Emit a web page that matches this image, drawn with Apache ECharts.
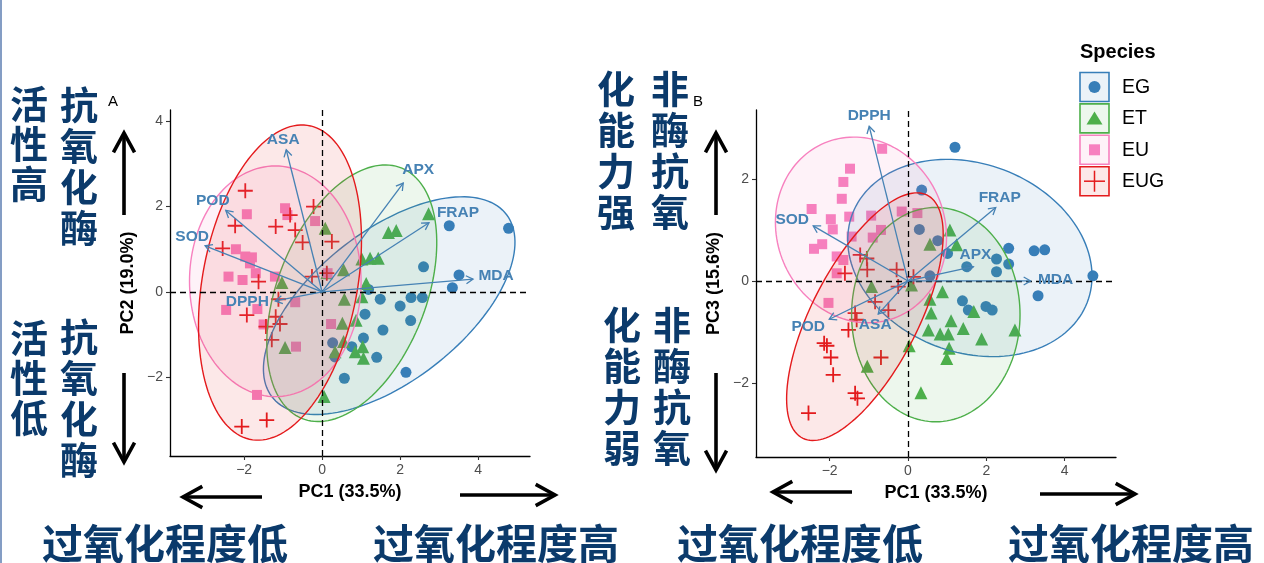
<!DOCTYPE html>
<html><head><meta charset="utf-8">
<script src="https://cdn.jsdelivr.net/npm/echarts@6/dist/echarts.min.js"></script>
<style>html,body{margin:0;padding:0;background:#fff}#c{width:1264px;height:563px}</style>
</head><body><div id="c"></div>
<script>
const speciesNames = ['EG', 'ET', 'EU', 'EUG'];
const speciesColors = ['#377EB8', '#4DAF4A', '#F781BF', '#E41A1C'];

// ---- Panel A : PC1 vs PC2 scores ----
const pcaA_EG = [[3.26,1.55],[4.78,1.49],[2.60,0.59],[3.51,0.40],[3.34,0.10],[1.49,-0.17],[2.0,-0.33],[2.28,-0.13],[2.57,-0.13],[1.10,-0.52],[2.27,-0.67],[1.56,-0.89],[1.06,-1.08],[0.27,-1.19],[0.76,-1.28],[1.40,-1.53],[2.15,-1.88],[0.57,-2.02],[0.33,-1.52],[1.19,0.06]];
const pcaA_ET = [[0.08,1.49],[2.73,1.83],[1.70,1.39],[1.90,1.44],[1.02,0.77],[1.23,0.79],[1.44,0.79],[0.55,0.52],[0.12,0.45],[-1.03,0.22],[1.13,0.20],[0.57,-0.17],[1.02,-0.11],[0.52,-0.73],[0.87,-0.66],[0.55,-1.16],[0.33,-1.40],[0.85,-1.40],[1.04,-1.28],[1.06,-1.55],[-0.95,-1.30],[0.05,-2.45]];
const pcaA_EU = [[-1.93,1.82],[-0.95,1.96],[-0.89,1.80],[-0.18,1.66],[-2.21,1.0],[-1.97,0.83],[-1.80,0.81],[-1.85,0.67],[-1.70,0.44],[-2.40,0.36],[-2.04,0.28],[-1.21,0.36],[-2.46,-0.42],[-1.66,-0.40],[-0.69,-0.24],[-1.50,-0.76],[0.23,-0.75],[-0.67,-1.28],[-1.67,-2.41],[0.14,0.44]];
const pcaA_EUG = [[-1.97,2.37],[-2.23,1.55],[-1.19,1.53],[-0.82,1.80],[-0.22,2.0],[-0.69,1.45],[-0.50,1.16],[0.25,1.18],[-2.55,1.02],[-1.63,0.24],[-0.26,0.36],[0.12,0.44],[-1.12,-0.17],[-1.93,-0.54],[-1.19,-0.58],[-1.08,-0.75],[-1.44,-0.81],[-1.29,-1.12],[-1.42,-3.0],[-2.06,-3.15]];

// ---- Panel B : PC1 vs PC3 scores ----
const pcaB_EG = [[1.20,2.62],[0.35,1.78],[0.29,1.01],[0.76,0.79],[1.01,0.54],[0.56,0.10],[1.50,0.28],[2.57,0.64],[2.26,0.43],[2.57,0.33],[2.26,0.18],[3.22,0.59],[3.49,0.61],[3.32,-0.29],[1.39,-0.39],[1.54,-0.57],[1.99,-0.50],[2.15,-0.57],[4.72,0.10]];
const pcaB_ET = [[0.56,0.72],[1.07,1.0],[1.24,0.71],[0.09,-0.08],[-0.93,-0.11],[0.88,-0.21],[0.56,-0.36],[0.59,-0.63],[1.68,-0.60],[1.10,-0.78],[1.41,-0.93],[0.52,-0.96],[0.82,-1.04],[1.03,-1.04],[1.88,-1.14],[2.73,-0.96],[1.05,-1.32],[0.99,-1.52],[0.03,-1.27],[-1.04,-1.67],[0.33,-2.19]];
const pcaB_EU = [[-0.66,2.59],[-1.48,2.20],[-1.65,1.94],[-1.69,1.61],[-2.46,1.41],[-1.97,1.21],[-1.92,1.01],[-1.50,1.26],[-0.94,1.28],[-0.16,1.36],[0.24,1.33],[-0.69,1.0],[-0.90,0.85],[-2.19,0.72],[-2.40,0.63],[-1.44,0.87],[-1.82,0.48],[-1.65,0.41],[-1.82,0.15],[-2.03,-0.43]];
const pcaB_EUG = [[-1.22,0.51],[-1.05,0.44],[-1.04,0.22],[-1.61,0.15],[-0.29,0.22],[-0.25,-0.11],[0.14,0.08],[-0.84,-0.41],[-0.50,-0.57],[-1.35,-0.63],[-1.31,-0.76],[-1.52,-0.96],[-2.14,-1.22],[-2.07,-1.27],[-1.97,-1.50],[-0.69,-1.50],[-1.91,-1.84],[-1.35,-2.20],[-1.29,-2.30],[-2.54,-2.59]];

// ---- variable loadings (arrow tips) ----
const loadingNames = ['ASA', 'POD', 'SOD', 'DPPH', 'APX', 'FRAP', 'MDA'];
const loadingsA = [[-0.92,3.33],[-2.47,1.91],[-3.0,1.08],[-1.20,-0.21],[2.08,2.55],[2.74,1.62],[3.87,0.30]];
const loadingsB = [[-0.76,-0.65],[-2.01,-0.75],[-2.42,1.08],[-0.99,3.03],[1.67,0.28],[2.24,1.44],[3.13,0.0]];

// ---- concentration ellipses: [centreX, centreY, semiAxis1, semiAxis2, angleDeg] ----
const ellipseA_EG = [1.72, -0.32, 3.69, 1.81, 33.9];
const ellipseA_ET = [0.76, -0.03, 3.2, 1.88, 64.8];
const ellipseA_EU = [-1.2, 0.25, 2.7, 2.2, 90];
const ellipseA_EUG = [-1.08, 0.22, 3.75, 1.98, 77.9];
const ellipseB_EG = [1.58, 0.45, 3.15, 1.88, -10.2];
const ellipseB_ET = [0.71, -0.66, 2.15, 2.1, 0];
const ellipseB_EU = [-1.2, 1.0, 2.2, 1.8, -12];
const ellipseB_EUG = [-1.1, -0.7, 2.88, 1.26, 53.2];

// ---- tick labels ----
const xTicksA = [-2, 0, 2, 4];
const yTicksA = [-2, 0, 2, 4];
const xTicksB = [-2, 0, 2, 4];
const yTicksB = [-2, 0, 2];

// ---------------- styling / building ----------------
const arrowColor = '#4682B4';
const cjkColor = '#0B3A6B';
const labelOffsetsA = [[-3,-10],[-13,-10],[-13,-9],[-28,1],[15,-13],[29,-10],[23,-3]];
const labelOffsetsB = [[-3,11],[-21,7],[-21,-6],[0,-11],[2,-12],[4,-10],[25,-1]];
const symbols = ['circle', 'triangle', 'rect', 'path://M4.4,0 H5.6 V4.4 H10 V5.6 H5.6 V10 H4.4 V5.6 H0 V4.4 H4.4 Z'];
const symbolSizes = [11, 13, 10, 15];

function rgba(hex, a) {
  const n = parseInt(hex.slice(1), 16);
  return 'rgba(' + (n >> 16) + ',' + ((n >> 8) & 255) + ',' + (n & 255) + ',' + a + ')';
}
const minusFmt = v => (v < 0 ? '\u2212' + (-v) : String(v));

function axisPair(gi, xmin, xmax, ymin, ymax, xt, yt, xname, yname) {
  const common = {
    axisLine: { show: true, onZero: false, lineStyle: { color: '#000', width: 1.3 } },
    axisTick: { show: true, length: 4, lineStyle: { color: '#333', width: 1.1 } },
    axisLabel: { color: '#4D4D4D', fontSize: 14, fontFamily: 'Liberation Sans, Arial, sans-serif', formatter: minusFmt },
    splitLine: { show: false },
    nameTextStyle: { color: '#000', fontSize: 18, fontWeight: 'bold', fontFamily: 'Liberation Sans, Arial, sans-serif' }
  };
  const x = Object.assign({}, common, {
    type: 'value', gridIndex: gi, min: xmin, max: xmax, position: 'bottom',
    name: xname, nameLocation: 'middle', nameGap: 27,
    axisTick: Object.assign({}, common.axisTick, { customValues: xt }),
    axisLabel: Object.assign({}, common.axisLabel, { customValues: xt, margin: 7 })
  });
  const y = Object.assign({}, common, {
    type: 'value', gridIndex: gi, min: ymin, max: ymax, position: 'left',
    name: yname, nameLocation: 'middle', nameGap: 33, nameRotate: 90,
    axisTick: Object.assign({}, common.axisTick, { customValues: yt }),
    axisLabel: Object.assign({}, common.axisLabel, { customValues: yt, margin: 7 })
  });
  return [x, y];
}

const axA = axisPair(0, -3.9, 5.33, -3.84, 4.26, xTicksA, yTicksA, 'PC1 (33.5%)', 'PC2 (19.0%)');
const axB = axisPair(1, -3.88, 5.31, -3.45, 3.35, xTicksB, yTicksB, 'PC1 (33.5%)', 'PC3 (15.6%)');

function scatterSeries(panel, arrs) {
  return arrs.map((arr, i) => ({
    type: 'scatter', name: speciesNames[i], xAxisIndex: panel, yAxisIndex: panel,
    data: arr, symbol: symbols[i], symbolSize: symbolSizes[i], z: 2,
    itemStyle: { color: speciesColors[i], opacity: 1 },
    emphasis: { disabled: true }, silent: true
  }));
}

function ellipseSeries(panel, ells) {
  return {
    type: 'custom', xAxisIndex: panel, yAxisIndex: panel, z: 3, silent: true,
    data: ells.map((e, i) => e.concat([i])),
    renderItem: function (params, api) {
      const cx = api.value(0), cy = api.value(1), a = api.value(2), b = api.value(3);
      const th = api.value(4) * Math.PI / 180, gi = api.value(5);
      const pts = [];
      for (let k = 0; k <= 144; k++) {
        const t = k / 144 * 2 * Math.PI;
        const x = cx + a * Math.cos(t) * Math.cos(th) - b * Math.sin(t) * Math.sin(th);
        const y = cy + a * Math.cos(t) * Math.sin(th) + b * Math.sin(t) * Math.cos(th);
        pts.push(api.coord([x, y]));
      }
      return { type: 'polygon', shape: { points: pts },
        style: { fill: rgba(speciesColors[gi], 0.1), stroke: speciesColors[gi], lineWidth: 1.4 } };
    }
  };
}

function arrowSeries(panel, loads, offsets) {
  return {
    type: 'custom', xAxisIndex: panel, yAxisIndex: panel, z: 5, silent: true,
    data: loads.map((v, i) => [v[0], v[1], i]),
    renderItem: function (params, api) {
      const o = api.coord([0, 0]);
      const p = api.coord([api.value(0), api.value(1)]);
      const idx = api.value(2);
      const ang = Math.atan2(p[1] - o[1], p[0] - o[0]);
      const L = 8, w = Math.PI / 6;
      const h1 = [p[0] - L * Math.cos(ang - w), p[1] - L * Math.sin(ang - w)];
      const h2 = [p[0] - L * Math.cos(ang + w), p[1] - L * Math.sin(ang + w)];
      const off = offsets[idx];
      return { type: 'group', children: [
        { type: 'line', shape: { x1: o[0], y1: o[1], x2: p[0], y2: p[1] }, style: { stroke: arrowColor, lineWidth: 1.3 } },
        { type: 'polyline', shape: { points: [h1, p, h2] }, style: { stroke: arrowColor, lineWidth: 1.3, fill: null } },
        { type: 'text', style: { x: p[0] + off[0], y: p[1] + off[1], text: loadingNames[idx], fill: arrowColor,
          fontSize: 15.5, fontWeight: 'bold', fontFamily: 'Liberation Sans, Arial, sans-serif', align: 'center', verticalAlign: 'middle' } }
      ] };
    }
  };
}

function zeroLines(panel) {
  return {
    type: 'scatter', xAxisIndex: panel, yAxisIndex: panel, data: [], z: 4, silent: true,
    markLine: { silent: true, symbol: 'none', label: { show: false },
      lineStyle: { color: '#000', type: [6, 4], width: 1.3 },
      data: [{ xAxis: 0 }, { yAxis: 0 }] }
  };
}

const series = [].concat(
  scatterSeries(0, [pcaA_EG, pcaA_ET, pcaA_EU, pcaA_EUG]),
  scatterSeries(1, [pcaB_EG, pcaB_ET, pcaB_EU, pcaB_EUG]),
  [ellipseSeries(0, [ellipseA_EG, ellipseA_ET, ellipseA_EU, ellipseA_EUG]),
   ellipseSeries(1, [ellipseB_EG, ellipseB_ET, ellipseB_EU, ellipseB_EUG]),
   zeroLines(0), zeroLines(1),
   arrowSeries(0, loadingsA, labelOffsetsA),
   arrowSeries(1, loadingsB, labelOffsetsB)]
);

// ---- graphic annotations ----
const g = [];
function cjk(text, x, y, size, lh) {
  g.push({ type: 'text', z: 10, style: { text: text, x: x, y: y, align: 'center', verticalAlign: 'top',
    fontSize: size, lineHeight: lh, fontWeight: 'bold', fontFamily: '"Noto Sans CJK SC", sans-serif', fill: cjkColor } });
}
function bigArrow(x1, y1, x2, y2) {
  const ang = Math.atan2(y2 - y1, x2 - x1), L = 22, w = 0.5;
  g.push({ type: 'polyline', z: 10, shape: { points: [[x1, y1], [x2, y2]] }, style: { stroke: '#000', lineWidth: 3.6, fill: null } });
  g.push({ type: 'polyline', z: 10, shape: { points: [
    [x2 - L * Math.cos(ang - w), y2 - L * Math.sin(ang - w)], [x2, y2],
    [x2 - L * Math.cos(ang + w), y2 - L * Math.sin(ang + w)]] },
    style: { stroke: '#000', lineWidth: 3.6, fill: null, lineJoin: 'miter' } });
}
cjk('活\n性\n高', 29, 84, 38, 40);
cjk('抗\n氧\n化\n酶', 79, 84, 38, 41);
cjk('活\n性\n低', 29, 318, 38, 40);
cjk('抗\n氧\n化\n酶', 79, 316, 38, 41);
cjk('化\n能\n力\n强', 616, 68, 38, 41);
cjk('非\n酶\n抗\n氧', 670, 68, 38, 41);
cjk('化\n能\n力\n弱', 622, 304, 38, 41);
cjk('非\n酶\n抗\n氧', 672, 304, 38, 41);
[['过氧化程度低', 165], ['过氧化程度高', 496], ['过氧化程度低', 800], ['过氧化程度高', 1131]].forEach(t => {
  g.push({ type: 'text', z: 10, style: { text: t[0], x: t[1], y: 543, align: 'center', verticalAlign: 'middle',
    fontSize: 41, fontWeight: 'bold', fontFamily: '"Noto Sans CJK SC", sans-serif', fill: cjkColor } });
});
bigArrow(124, 215, 124, 133);
bigArrow(124, 373, 124, 462);
bigArrow(716, 215, 716, 133);
bigArrow(716, 373, 716, 470);
bigArrow(262, 497, 183, 497);
bigArrow(460, 495, 555, 495);
bigArrow(852, 492, 773, 492);
bigArrow(1040, 494, 1135, 494);
// panel tags
g.push({ type: 'text', z: 10, style: { text: 'A', x: 113, y: 102, align: 'center', verticalAlign: 'middle', fontSize: 15, fontFamily: 'Liberation Sans, Arial, sans-serif', fill: '#000' } });
g.push({ type: 'text', z: 10, style: { text: 'B', x: 698, y: 102, align: 'center', verticalAlign: 'middle', fontSize: 15, fontFamily: 'Liberation Sans, Arial, sans-serif', fill: '#000' } });
// left frame line
g.push({ type: 'line', z: 10, shape: { x1: 1, y1: 0, x2: 1, y2: 563 }, style: { stroke: '#5B7DB1', lineWidth: 1.5 } });

// legend (boxed keys, as in ggplot)
g.push({ type: 'text', z: 12, style: { text: 'Species', x: 1080, y: 52, verticalAlign: 'middle', fontSize: 20, fontWeight: 'bold', fontFamily: 'Liberation Sans, Arial, sans-serif', fill: '#000' } });
speciesNames.forEach((nm, i) => {
  const top = 72.5 + i * 31.4, cx = 1094.5, cy = top + 14.5, c = speciesColors[i];
  g.push({ type: 'rect', z: 12, shape: { x: 1080, y: top, width: 29, height: 29 }, style: { fill: rgba(c, 0.1), stroke: c, lineWidth: 1.6 } });
  if (i === 0) g.push({ type: 'circle', z: 13, shape: { cx: cx, cy: cy, r: 6 }, style: { fill: c } });
  if (i === 1) g.push({ type: 'polygon', z: 13, shape: { points: [[cx - 8, cy + 6], [cx + 8, cy + 6], [cx, cy - 7]] }, style: { fill: c } });
  if (i === 2) g.push({ type: 'rect', z: 13, shape: { x: cx - 5.5, y: cy - 5.5, width: 11, height: 11 }, style: { fill: c } });
  if (i === 3) {
    g.push({ type: 'line', z: 13, shape: { x1: cx - 10.5, y1: cy, x2: cx + 10.5, y2: cy }, style: { stroke: c, lineWidth: 1.5 } });
    g.push({ type: 'line', z: 13, shape: { x1: cx, y1: cy - 10.5, x2: cx, y2: cy + 10.5 }, style: { stroke: c, lineWidth: 1.5 } });
  }
  g.push({ type: 'text', z: 13, style: { text: nm, x: 1122, y: cy + 0.5, verticalAlign: 'middle', fontSize: 19.5, fontFamily: 'Liberation Sans, Arial, sans-serif', fill: '#000' } });
});

const chart = echarts.init(document.getElementById('c'), null, { renderer: 'canvas' });
chart.setOption({
  animation: false,
  backgroundColor: '#fff',
  grid: [
    { left: 170, top: 110, width: 360, height: 346 },
    { left: 756, top: 110, width: 360, height: 347 }
  ],
  xAxis: [axA[0], axB[0]],
  yAxis: [axA[1], axB[1]],
  series: series,
  graphic: g
});
</script>
</body></html>
